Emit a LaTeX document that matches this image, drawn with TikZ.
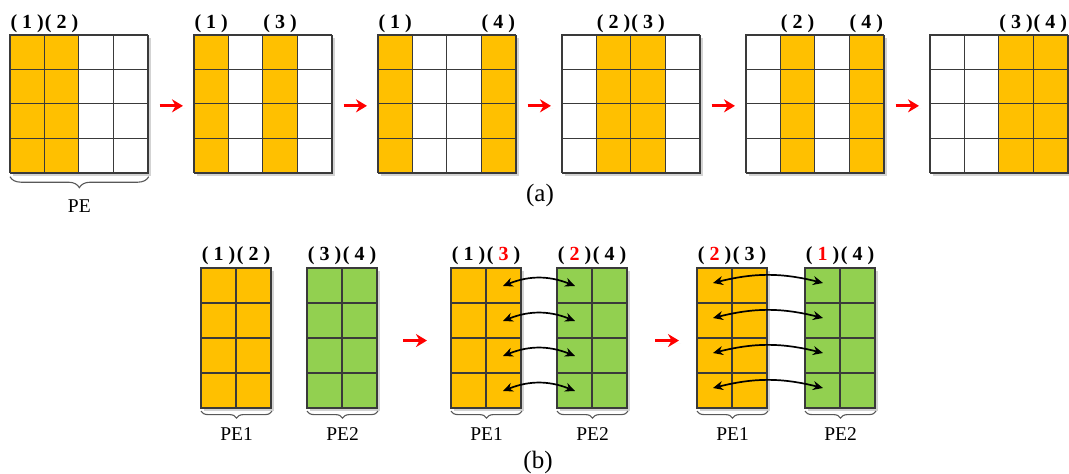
\documentclass[tikz,border=0pt]{standalone}
\usepackage{fontspec}
\setmainfont{Liberation Serif}
\usetikzlibrary{shadows,arrows.meta,decorations.pathreplacing}
\definecolor{cellorange}{HTML}{FFC000}
\definecolor{cellgreen}{HTML}{92D050}
\definecolor{gridgray}{HTML}{3A3A3A}

\tikzset{
  gridbox/.style={draw=gridgray, line width=1.1pt, fill=white, inner sep=0pt,
    anchor=north west,
    drop shadow={shadow xshift=2.5pt, shadow yshift=-2.5pt, opacity=0.35}},
  gridline/.style={draw=gridgray, line width=1.1pt},
  collabel/.style={font=\fontsize{20}{20}\selectfont\bfseries, anchor=base, inner sep=0pt},
  pelabel/.style={font=\fontsize{19.5}{19.5}\selectfont, inner sep=0pt},
  caption/.style={font=\fontsize{25}{25}\selectfont, inner sep=0pt},
  nextarrow/.style={draw=red, line width=3.2pt,
    -{Stealth[length=11pt,width=13pt]},
    drop shadow={shadow xshift=2pt, shadow yshift=-3pt, opacity=0.3}},
  swaparrow/.style={draw=black, line width=1.7pt,
    {Stealth[length=10pt,width=9pt]}-{Stealth[length=10pt,width=9pt]}},
  pebrace/.style={draw=gridgray!85, line width=1.1pt,
    decorate, decoration={brace, mirror, amplitude=#1}},
}

\begin{document}
\begin{tikzpicture}[x=1pt, y=-1pt]
\useasboundingbox (0,0) rectangle (1069,474);

% ---------- (a): one PE holding a 4x4 block, column pairs in turn ----------
\def\cw{34.4}
\foreach \k/\a/\b in {1/1/2, 2/1/3, 3/1/4, 4/2/3, 5/2/4, 6/3/4} {
  \pgfmathsetmacro\xl{10+184*(\k-1)}
  \node[gridbox, minimum width=137.6, minimum height=137.6] (g\k) at (\xl,35) {};
  \fill[cellorange] (\xl+\cw*\a-\cw,35) rectangle ++(\cw,137.6);
  \fill[cellorange] (\xl+\cw*\b-\cw,35) rectangle ++(\cw,137.6);
  \foreach \i in {1,2,3} {
    \draw[gridline] (\xl+\cw*\i,35) -- ++(0,137.6);
    \draw[gridline] (\xl,35+\cw*\i) -- ++(137.6,0);
  }
  \draw[gridline] (\xl,35) rectangle ++(137.6,137.6);
  \node[collabel] (g\k-la) at (\xl+\cw*\a-\cw/2,28) {( \a\ )};
  \node[collabel] (g\k-lb) at (\xl+\cw*\b-\cw/2,28) {( \b\ )};
}
\foreach \k [evaluate=\k as \n using int(\k+1)] in {1,...,5}
  \draw[nextarrow] ([xshift=11pt,yshift=-1.5pt]g\k.east) -- ([xshift=-11pt,yshift=-1.5pt]g\n.west);

\draw[pebrace=11pt] ([yshift=-3pt]g1.south west) -- ([yshift=-3pt]g1.south east)
  node[pelabel, midway, yshift=-29pt] (pe) {PE};
\node[caption] (capa) at (540,195) {(a)};

% ---------- (b): two PEs, each holding two columns ----------
\def\ch{35}
\foreach \p/\xa/\xb/\la/\lb/\lc/\ld in {
    1/201/307/1/2/3/4,
    2/451/557/1/{\textcolor{red}{3}}/{\textcolor{red}{2}}/4,
    3/697/805/{\textcolor{red}{2}}/3/{\textcolor{red}{1}}/4} {
  \node[gridbox, fill=cellorange, minimum width=70, minimum height=140] (pa\p) at (\xa,268) {};
  \node[gridbox, fill=cellgreen, minimum width=70, minimum height=140] (pb\p) at (\xb,268) {};
  \foreach \x in {\xa,\xb} {
    \draw[gridline] (\x+35,268) -- ++(0,140);
    \foreach \i in {1,2,3}
      \draw[gridline] (\x,268+\ch*\i) -- ++(70,0);
    \draw[gridline] (\x,268) rectangle ++(70,140);
  }
  \node[collabel] (pa\p-l1) at (\xa+17.5,260) {( \la\ )};
  \node[collabel] (pa\p-l2) at (\xa+52.5,260) {( \lb\ )};
  \node[collabel] (pb\p-l1) at (\xb+17.5,260) {( \lc\ )};
  \node[collabel] (pb\p-l2) at (\xb+52.5,260) {( \ld\ )};
  \draw[pebrace=7pt] ([yshift=-2pt]pa\p.south west) -- ([yshift=-2pt]pa\p.south east)
    node[pelabel, midway, yshift=-23pt] (pa\p-name) {PE1};
  \draw[pebrace=7pt] ([yshift=-2pt]pb\p.south west) -- ([yshift=-2pt]pb\p.south east)
    node[pelabel, midway, yshift=-23pt] (pb\p-name) {PE2};
}

% cell centres used as ends of the exchange arrows
\foreach \r in {0,1,2,3} {
  \coordinate (s2-\r) at (503,286+35*\r);
  \coordinate (t2-\r) at (575,286+35*\r);
  \coordinate (s3-\r) at (713,283+35*\r);
  \coordinate (t3-\r) at (823,283+35*\r);
  \draw[swaparrow] (s2-\r) to[bend left=22] (t2-\r);
  \draw[swaparrow] (s3-\r) to[bend left=14] (t3-\r);
}

\draw[nextarrow] ([xshift=25pt,yshift=-2pt]pb1.east) -- ([xshift=-24pt,yshift=-2pt]pa2.west);
\draw[nextarrow] ([xshift=27pt,yshift=-2pt]pb2.east) -- ([xshift=-18pt,yshift=-2pt]pa3.west);

\node[caption] (capb) at (538,462) {(b)};
\end{tikzpicture}
\end{document}
